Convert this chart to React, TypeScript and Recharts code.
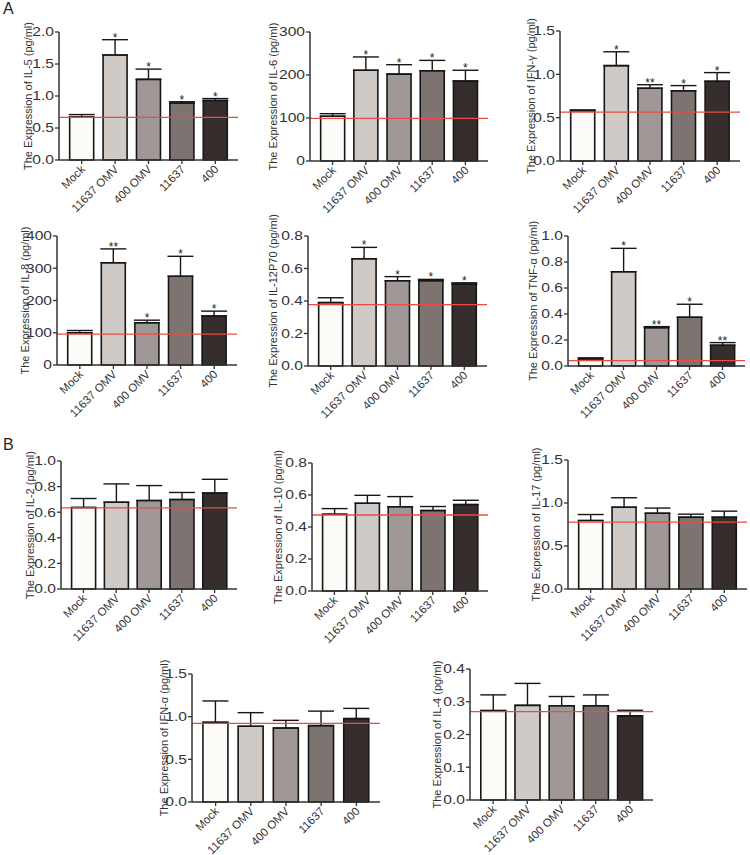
import { ComposedChart, Bar, Cell, ErrorBar, Line, LabelList, XAxis, YAxis, ReferenceLine } from "recharts"

const groups = ["Mock", "11637 OMV", "400 OMV", "11637", "400"]
const fills = ["#fdfbf7", "#cfcac6", "#9f9896", "#7d7472", "#362e2c"]
const font = "'Liberation Sans', Arial, sans-serif"

// panel A
const il5Mean = [0.67, 1.64, 1.26, 0.89, 0.93]
const il5Err = [0.04, 0.24, 0.16, 0.02, 0.03]
const il5Sig = ["", "*", "*", "*", "*"]

const il6Mean = [104, 211, 202, 210, 186]
const il6Err = [6, 31, 22, 24, 25]
const il6Sig = ["", "*", "*", "*", "*"]

const ifngMean = [0.58, 1.1, 0.84, 0.81, 0.92]
const ifngErr = [0.01, 0.16, 0.04, 0.06, 0.1]
const ifngSig = ["", "*", "**", "*", "*"]

const il8Mean = [100, 317, 131, 275, 152]
const il8Err = [7, 43, 8, 62, 15]
const il8Sig = ["", "**", "*", "*", "*"]

const il12Mean = [0.39, 0.66, 0.525, 0.525, 0.505]
const il12Err = [0.03, 0.07, 0.025, 0.008, 0.007]
const il12Sig = ["", "*", "*", "*", "*"]

const tnfMean = [0.055, 0.725, 0.295, 0.375, 0.16]
const tnfErr = [0.008, 0.18, 0.008, 0.1, 0.02]
const tnfSig = ["", "*", "**", "*", "**"]

// panel B
const il2Mean = [0.637, 0.678, 0.691, 0.699, 0.75]
const il2Err = [0.07, 0.143, 0.117, 0.055, 0.107]

const il10Mean = [0.48, 0.548, 0.527, 0.503, 0.54]
const il10Err = [0.035, 0.05, 0.063, 0.025, 0.027]

const il17Mean = [0.796, 0.951, 0.881, 0.835, 0.835]
const il17Err = [0.07, 0.11, 0.06, 0.035, 0.07]

const ifnaMean = [0.934, 0.887, 0.867, 0.895, 0.977]
const ifnaErr = [0.25, 0.16, 0.09, 0.17, 0.12]

const il4Mean = [0.273, 0.289, 0.288, 0.288, 0.257]
const il4Err = [0.048, 0.067, 0.028, 0.033, 0.017]

const noSig = ["", "", "", "", ""]

const panels = [
  { name: "IL-5", mean: il5Mean, err: il5Err, sig: il5Sig, ref: 0.665, ticks: [0, 0.5, 1, 1.5, 2], dp: 1 },
  { name: "IL-6", mean: il6Mean, err: il6Err, sig: il6Sig, ref: 99, ticks: [0, 100, 200, 300], dp: 0 },
  { name: "IFN-γ", mean: ifngMean, err: ifngErr, sig: ifngSig, ref: 0.565, ticks: [0, 0.5, 1, 1.5], dp: 1 },
  { name: "IL-8", mean: il8Mean, err: il8Err, sig: il8Sig, ref: 96, ticks: [0, 100, 200, 300, 400], dp: 0 },
  { name: "IL-12P70", mean: il12Mean, err: il12Err, sig: il12Sig, ref: 0.378, ticks: [0, 0.2, 0.4, 0.6, 0.8], dp: 1 },
  { name: "TNF-α", mean: tnfMean, err: tnfErr, sig: tnfSig, ref: 0.041, ticks: [0, 0.2, 0.4, 0.6, 0.8, 1], dp: 1 },
  { name: "IL-2", mean: il2Mean, err: il2Err, sig: noSig, ref: 0.634, ticks: [0, 0.2, 0.4, 0.6, 0.8, 1], dp: 1 },
  { name: "IL-10", mean: il10Mean, err: il10Err, sig: noSig, ref: 0.475, ticks: [0, 0.2, 0.4, 0.6, 0.8], dp: 1 },
  { name: "IL-17", mean: il17Mean, err: il17Err, sig: noSig, ref: 0.777, ticks: [0, 0.5, 1, 1.5], dp: 1 },
  { name: "IFN-α", mean: ifnaMean, err: ifnaErr, sig: noSig, ref: 0.922, ticks: [0, 0.5, 1, 1.5], dp: 1 },
  { name: "IL-4", mean: il4Mean, err: il4Err, sig: noSig, ref: 0.27, ticks: [0, 0.1, 0.2, 0.3, 0.4], dp: 1 },
]

// plot-area boxes on the page (axis origin / top tick / axis end) and label distance
const frames = [
  { x0: 59, x1: 238, y0: 32, y1: 160, lab: 31 },
  { x0: 310, x1: 488, y0: 32, y1: 161, lab: 37 },
  { x0: 560, x1: 740, y0: 31, y1: 161, lab: 29 },
  { x0: 57, x1: 237, y0: 236, y1: 365, lab: 32 },
  { x0: 308, x1: 487, y0: 236, y1: 366, lab: 35 },
  { x0: 568, x1: 745, y0: 236, y1: 366, lab: 35 },
  { x0: 61, x1: 237, y0: 461, y1: 589, lab: 31 },
  { x0: 312, x1: 488, y0: 463, y1: 591, lab: 34 },
  { x0: 568, x1: 747, y0: 460, y1: 589, lab: 32 },
  { x0: 192, x1: 380, y0: 674, y1: 802, lab: 28 },
  { x0: 470, x1: 653, y0: 669, y1: 800, lab: 33 },
]

function YTick(props: any) {
  const { x, y, payload, dp } = props
  return (
    <text transform={`translate(${x},${y}) scale(1.3,1)`} textAnchor="end" dy="0.36em" fontSize={12} fill="#333" fontFamily={font}>
      {Number(payload.value).toFixed(dp)}
    </text>
  )
}

function XTick(props: any) {
  const { x, y, payload } = props
  return (
    <text transform={`translate(${x + 4},${y + 4}) rotate(-45)`} textAnchor="end" fontSize={11.5} fill="#333" fontFamily={font}>
      {payload.value}
    </text>
  )
}

function Panel({ p, f }: { p: any; f: any }) {
  const rows = groups.map((g, i) => ({ g, v: p.mean[i], e: [0, p.err[i]], top: p.mean[i] + p.err[i], s: p.sig[i] }))
  const top = 30
  const left = 60
  const right = 6
  const bottom = 62
  const w = f.x1 - f.x0 + left + right
  const h = f.y1 - f.y0 + top + bottom
  const max = p.ticks[p.ticks.length - 1]
  return (
    <div style={{ position: "absolute", left: f.x0 - left, top: f.y0 - top }}>
      <ComposedChart width={w} height={h} data={rows} margin={{ top, right, left: 0, bottom: 0 }} barCategoryGap="14%">
        <XAxis
          dataKey="g"
          height={bottom}
          padding={{ left: 6, right: 6 }}
          interval={0}
          tick={(t: any) => <XTick {...t} />}
          tickSize={4}
          tickLine={{ stroke: "#333", strokeWidth: 1.3 }}
          axisLine={{ stroke: "#333", strokeWidth: 1.5 }}
        />
        <YAxis
          width={left}
          domain={[0, max]}
          ticks={p.ticks}
          interval={0}
          tick={(t: any) => <YTick {...t} dp={p.dp} />}
          tickSize={4}
          tickMargin={1}
          tickLine={{ stroke: "#333", strokeWidth: 1.3 }}
          axisLine={{ stroke: "#333", strokeWidth: 1.5 }}
          label={{
            value: `The Expression of ${p.name} (pg/ml)`,
            angle: -90,
            position: "insideLeft",
            offset: left - f.lab,
            style: { textAnchor: "middle", fontSize: 11, fill: "#333", fontFamily: font },
          }}
        />
        <Bar dataKey="v" stroke="#161616" strokeWidth={1.6} isAnimationActive={false}>
          {rows.map((r, i) => (
            <Cell key={r.g} fill={fills[i]} />
          ))}
          <ErrorBar dataKey="e" width={13} stroke="#161616" strokeWidth={1.4} direction="y" />
        </Bar>
        <ReferenceLine y={p.ref} stroke="#ec4a42" strokeWidth={1.3} />
        <Line dataKey="top" stroke="none" dot={false} activeDot={false} isAnimationActive={false}>
          <LabelList dataKey="s" position="top" offset={-2} fontSize={12} fill="#222" fontFamily={font} />
        </Line>
      </ComposedChart>
    </div>
  )
}

export default function App() {
  return (
    <div style={{ position: "absolute", left: 0, top: 0, width: 750, height: 855, background: "#fff", fontFamily: font }}>
      <div style={{ position: "absolute", left: 3, top: 0, fontSize: 16, color: "#222" }}>A</div>
      <div style={{ position: "absolute", left: 3, top: 436, fontSize: 16, color: "#222" }}>B</div>
      {panels.map((p, i) => (
        <Panel key={p.name} p={p} f={frames[i]} />
      ))}
    </div>
  )
}
